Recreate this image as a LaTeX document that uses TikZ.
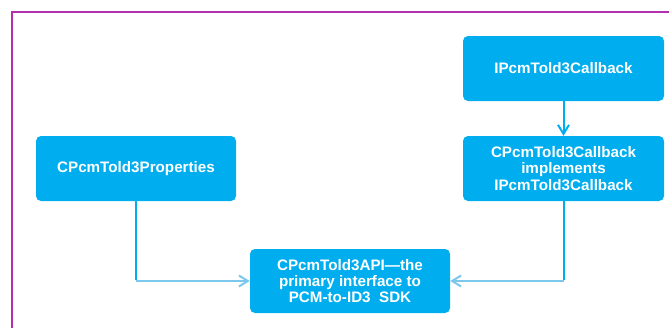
\documentclass[tikz,border=0pt]{standalone}
\usepackage{fontspec}
\setmainfont{Liberation Sans}
\usetikzlibrary{arrows.meta}
\definecolor{boxblue}{RGB}{0,174,239}
\definecolor{lightline}{RGB}{124,200,236}
\definecolor{frame}{RGB}{176,48,176}
\tikzset{
  boxnode/.style={draw=none, fill=boxblue, rounded corners=5pt, text=white,
    font=\bfseries\fontsize{15.2pt}{16.3pt}\selectfont, align=center,
    inner sep=0pt, minimum width=201pt, minimum height=65pt},
  darkline/.style={draw=boxblue, line width=2pt},
  lightconn/.style={draw=lightline, line width=2pt},
  tip/.style={-{Straight Barb[length=9pt,width=11pt,line width=2pt]}}
}
\begin{document}
\begin{tikzpicture}[x=1pt,y=-1pt]
\useasboundingbox (0,0) rectangle (669,327);
\draw[frame, line width=2pt] (12,330) -- (12,12) -- (672,12);
\node[boxnode] (ip) at (563.5,68.5) {IPcmTold3Callback};
\node[boxnode] (cb) at (563.5,168.5) {CPcmTold3Callback\\implements\\IPcmTold3Callback};
\node[boxnode, minimum width=200pt] (prop) at (136,168.5) {CPcmTold3Properties};
\node[boxnode, minimum width=200pt, minimum height=64pt] (api) at (350,281) {CPcmTold3API---the\\primary interface to\\PCM-to-ID3\ \ SDK};
\coordinate (lc) at (prop.south |- api.west);
\coordinate (rc) at (cb.south |- api.east);
\draw[darkline, tip] (ip.south) -- (cb.north);
\draw[darkline] (prop.south) -- ([yshift=1pt]lc);
\draw[lightconn, tip] (lc) -- (api.west);
\draw[darkline] (cb.south) -- ([yshift=1pt]rc);
\draw[lightconn, tip] (rc) -- (api.east);
\end{tikzpicture}
\end{document}
